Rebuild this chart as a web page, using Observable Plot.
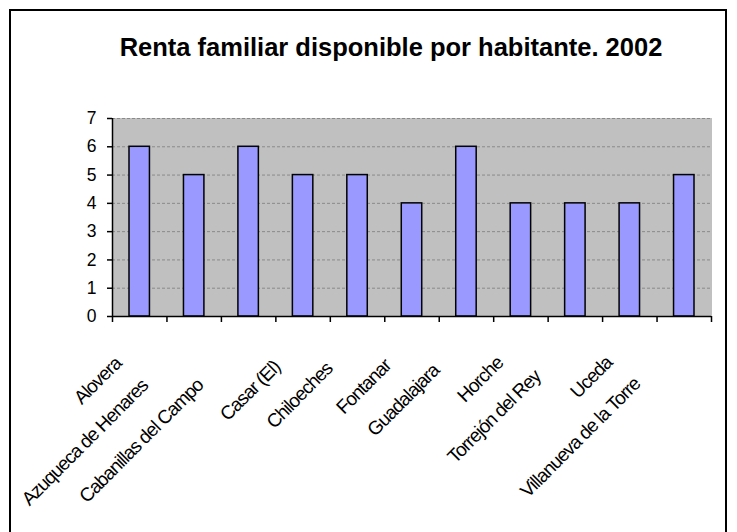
<!DOCTYPE html>
<html>
<head>
<meta charset="utf-8">
<script src="https://cdn.jsdelivr.net/npm/d3@7"></script>
<script src="https://cdn.jsdelivr.net/npm/@observablehq/plot@0.6"></script>
<style>
  html, body { margin: 0; padding: 0; background: #fff; }
  #wrap { position: relative; width: 737px; height: 532px; overflow: hidden; font-family: "Liberation Sans", Arial, sans-serif; }
  #border { position: absolute; left: 9px; top: 9px; width: 718px; height: 540px; border: 2px solid #000; box-sizing: border-box; }
  #title { position: absolute; left: 391px; top: 35px; transform: translateX(-50%); white-space: nowrap; font-weight: bold; font-size: 25.5px; line-height: 1; color: #000; }
  #chart { position: absolute; left: 0; top: 0; }
  #chart .cat text, #chart text.cat { letter-spacing: -1px; }
</style>
</head>
<body>
<div id="wrap">
  <div id="border"></div>
  <div id="title"></div>
  <div id="chart"></div>
</div>
<script>
const titleText = "Renta familiar disponible por habitante. 2002";
const categories = ["Alovera", "Azuqueca de Henares", "Cabanillas del Campo", "Casar (El)", "Chiloeches", "Fontanar", "Guadalajara", "Horche", "Torrejón del Rey", "Uceda", "Villanueva de la Torre"];
const values = [6, 5, 6, 5, 5, 4, 6, 4, 4, 4, 5];
const yTicks = [0, 1, 2, 3, 4, 5, 6, 7];

document.getElementById("title").textContent = titleText;

const W = 737, H = 532, mL = 112, mR = 26, mT = 118, mB = 216;
const bw = (W - mL - mR) / categories.length;
const data = categories.map((c, i) => ({c, v: values[i]}));
const labelSize = 19;
const tickSize = 17.5;

// measure label widths to reproduce the spreadsheet's label stagger
const ctx = document.createElement("canvas").getContext("2d");
ctx.font = `${labelSize}px "Liberation Sans"`;
const labelMarks = categories.map((c) => {
  const w = ctx.measureText(c).width - 1 * c.length;
  const s = Math.max(0, 0.2 * (w - 54));
  return Plot.text([c], {
    x: (d) => d,
    y: () => 0,
    text: (d) => d,
    rotate: -45,
    textAnchor: "end",
    lineAnchor: "top",
    dx: -26 - 1.25 * s,
    dy: 38 + s,
    fontSize: labelSize,
    fill: "#000",
    className: "cat"
  });
});

const chart = Plot.plot({
  width: W,
  height: H,
  marginLeft: mL,
  marginRight: mR,
  marginTop: mT,
  marginBottom: mB,
  style: {fontFamily: '"Liberation Sans", Arial, sans-serif', fontSize: `${tickSize}px`, color: "#000", background: "transparent", overflow: "visible"},
  x: {type: "band", domain: categories, padding: 0, round: false, label: null, axis: null},
  y: {domain: [0, 7], label: null, axis: null},
  marks: [
    Plot.frame({fill: "#c0c0c0", stroke: "#c0c0c0"}),
    Plot.gridY(yTicks.slice(1), {stroke: "#8a8a8a", strokeOpacity: 1, strokeDasharray: "3,2", strokeWidth: 1}),
    Plot.barY(data, {x: "c", y: "v", fill: "#9999FF", stroke: "#000", strokeWidth: 1.5, insetLeft: 17, insetRight: 17}),
    Plot.ruleY([0], {stroke: "#000", strokeWidth: 1.5}),
    Plot.ruleX([categories[0]], {dx: -bw / 2, y1: 0, y2: 7, stroke: "#000", strokeWidth: 1.5}),
    Plot.axisX({tickSize: 6, tickFormat: () => "", dx: -bw / 2, stroke: "#000", strokeWidth: 1.5, label: null}),
    Plot.axisX([categories[categories.length - 1]], {tickSize: 6, tickFormat: () => "", dx: bw / 2, stroke: "#000", strokeWidth: 1.5, label: null}),
    Plot.axisY(yTicks, {tickSize: 5, tickPadding: 11, fontSize: tickSize, stroke: "#000", strokeWidth: 1.5, label: null}),
    ...labelMarks
  ]
});
document.getElementById("chart").appendChild(chart);
</script>
</body>
</html>
